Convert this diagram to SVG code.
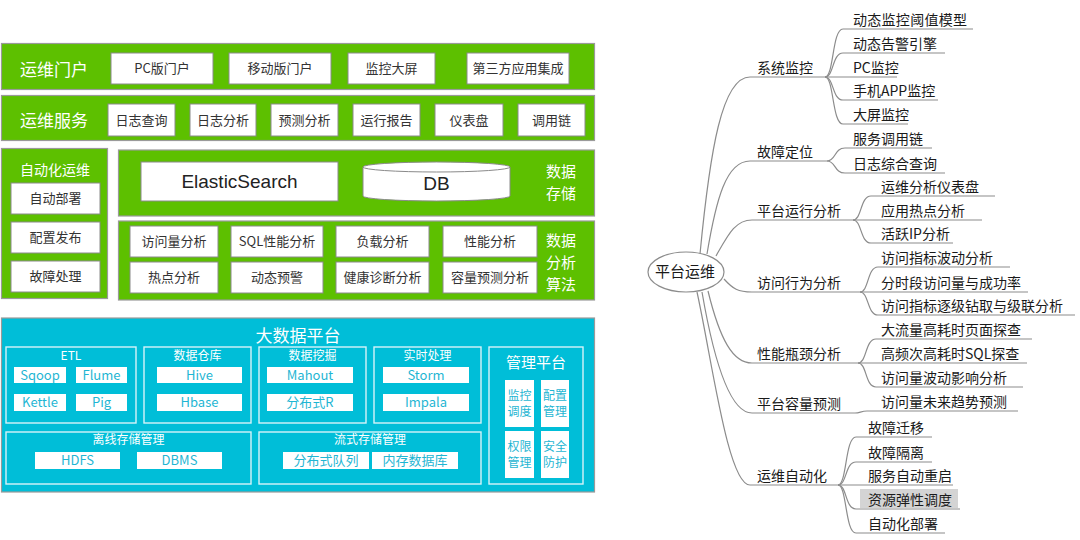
<svg xmlns="http://www.w3.org/2000/svg" width="1080" height="540" viewBox="0 0 1080 540">
<style>
text{font-family:"Noto Sans CJK SC","Liberation Sans",sans-serif;}
.gp{fill:#5DC000;stroke:#9a9a9a;stroke-width:1.2;}
.wb{fill:#fff;stroke:#8a8a8a;stroke-width:1;}
.t17{font-size:17px;fill:#fff;}
.t16{font-size:15px;fill:#fff;text-anchor:middle;}
.bt{font-size:13px;fill:#333;text-anchor:middle;}
.cp{fill:#00BED8;stroke:#9a9a9a;stroke-width:1.2;}
.cs{fill:none;stroke:#d6f3f9;stroke-width:1.4;}
.cb{fill:#fff;}
.ct{font-size:13px;fill:#1FB6D3;text-anchor:middle;}
.cw{font-size:12px;fill:#fff;text-anchor:middle;}
.ml{fill:none;stroke:#8c8c8c;stroke-width:1.2;}
.m1{font-size:14px;fill:#1a1a1a;}
</style>

<g id="portal">
<rect class="gp" x="1.5" y="43.5" width="593" height="46"/>
<text class="t17" x="20" y="76">运维门户</text>
<rect class="wb" x="111" y="53" width="102" height="31"/><text class="bt" x="162" y="73">PC版门户</text>
<rect class="wb" x="229" y="53" width="102" height="31"/><text class="bt" x="280" y="73">移动版门户</text>
<rect class="wb" x="348" y="53" width="87" height="31"/><text class="bt" x="391.5" y="73">监控大屏</text>
<rect class="wb" x="467" y="53" width="102" height="31"/><text class="bt" x="518" y="73">第三方应用集成</text>
</g>

<g id="service">
<rect class="gp" x="1.5" y="95.5" width="593" height="45"/>
<text class="t17" x="20" y="127">运维服务</text>
<rect class="wb" x="108" y="104" width="67" height="32"/><text class="bt" x="141.5" y="125">日志查询</text>
<rect class="wb" x="190" y="104" width="66" height="32"/><text class="bt" x="223" y="125">日志分析</text>
<rect class="wb" x="271" y="104" width="67" height="32"/><text class="bt" x="304.5" y="125">预测分析</text>
<rect class="wb" x="353" y="104" width="67" height="32"/><text class="bt" x="386.5" y="125">运行报告</text>
<rect class="wb" x="435" y="104" width="68" height="32"/><text class="bt" x="469" y="125">仪表盘</text>
<rect class="wb" x="518" y="104" width="67" height="32"/><text class="bt" x="551.5" y="125">调用链</text>
</g>

<g id="automation">
<rect class="gp" x="1.5" y="148.5" width="106" height="150"/>
<text x="55" y="175" style="font-size:14px;fill:#fff;text-anchor:middle">自动化运维</text>
<rect class="wb" x="11" y="183" width="89" height="31"/><text class="bt" x="55.5" y="203">自动部署</text>
<rect class="wb" x="11" y="222" width="89" height="31"/><text class="bt" x="55.5" y="242">配置发布</text>
<rect class="wb" x="11" y="261" width="89" height="31"/><text class="bt" x="55.5" y="281">故障处理</text>
</g>

<g id="storage">
<rect class="gp" x="118.5" y="150" width="476" height="66"/>
<rect class="wb" x="141" y="162" width="197" height="39"/>
<text x="239.5" y="188" style="font-family:'Liberation Sans',sans-serif;font-size:19px;fill:#222;text-anchor:middle">ElasticSearch</text>
<path d="M363,167 L363,196 A73.5,5 0 0 0 510,196 L510,167 A73.5,5 0 0 0 363,167 Z" fill="#fff" stroke="#8a8a8a"/>
<path d="M363,167 A73.5,5 0 0 0 510,167" fill="none" stroke="#8a8a8a"/>
<text x="436.5" y="190" style="font-family:'Liberation Sans',sans-serif;font-size:19px;fill:#222;text-anchor:middle">DB</text>
<text class="t16" x="561" y="177">数据<tspan x="561" dy="22">存储</tspan></text>
</g>

<g id="analysis">
<rect class="gp" x="118.5" y="221" width="476" height="79"/>
<rect class="wb" x="130" y="226" width="88" height="31"/><text class="bt" x="174" y="246">访问量分析</text>
<rect class="wb" x="231" y="226" width="92" height="31"/><text class="bt" x="277" y="246">SQL性能分析</text>
<rect class="wb" x="336" y="226" width="93" height="31"/><text class="bt" x="382.5" y="246">负载分析</text>
<rect class="wb" x="443" y="226" width="94" height="31"/><text class="bt" x="490" y="246">性能分析</text>
<rect class="wb" x="130" y="262" width="88" height="31"/><text class="bt" x="174" y="282">热点分析</text>
<rect class="wb" x="231" y="262" width="92" height="31"/><text class="bt" x="277" y="282">动态预警</text>
<rect class="wb" x="336" y="262" width="93" height="31"/><text class="bt" x="382.5" y="282">健康诊断分析</text>
<rect class="wb" x="443" y="262" width="94" height="31"/><text class="bt" x="490" y="282">容量预测分析</text>
<text class="t16" x="561" y="246">数据<tspan x="561" dy="22">分析</tspan><tspan x="561" dy="22">算法</tspan></text>
</g>

<g id="bigdata">
<rect class="cp" x="1.5" y="318" width="593" height="174"/>
<text x="298" y="342" style="font-size:17px;fill:#fff;text-anchor:middle">大数据平台</text>
</g>

<g id="etl">
<rect class="cs" x="6" y="347" width="130" height="76"/>
<text class="cw" x="71" y="360">ETL</text>
<rect class="cb" x="14" y="367" width="52" height="16"/><text class="ct" x="40" y="380">Sqoop</text>
<rect class="cb" x="76" y="367" width="51" height="16"/><text class="ct" x="101.5" y="380">Flume</text>
<rect class="cb" x="14" y="394" width="52" height="17"/><text class="ct" x="40" y="407">Kettle</text>
<rect class="cb" x="76" y="394" width="51" height="17"/><text class="ct" x="101.5" y="407">Pig</text>
</g>

<g id="warehouse">
<rect class="cs" x="144" y="347" width="107" height="76"/>
<text class="cw" x="197.5" y="360">数据仓库</text>
<rect class="cb" x="157" y="367" width="85" height="16"/><text class="ct" x="199.5" y="380">Hive</text>
<rect class="cb" x="157" y="394" width="85" height="17"/><text class="ct" x="199.5" y="407">Hbase</text>
</g>

<g id="mining">
<rect class="cs" x="259" y="347" width="107" height="76"/>
<text class="cw" x="312.5" y="360">数据挖掘</text>
<rect class="cb" x="267" y="367" width="86" height="16"/><text class="ct" x="310" y="380">Mahout</text>
<rect class="cb" x="267" y="394" width="86" height="17"/><text class="ct" x="310" y="407">分布式R</text>
</g>

<g id="realtime">
<rect class="cs" x="374" y="347" width="107" height="76"/>
<text class="cw" x="427.5" y="360">实时处理</text>
<rect class="cb" x="383" y="367" width="86" height="16"/><text class="ct" x="426" y="380">Storm</text>
<rect class="cb" x="383" y="394" width="86" height="17"/><text class="ct" x="426" y="407">Impala</text>
</g>

<g id="offline">
<rect class="cs" x="6" y="432" width="245" height="52"/>
<text class="cw" x="128.5" y="444">离线存储管理</text>
<rect class="cb" x="35" y="452" width="85" height="17"/><text class="ct" x="77.5" y="465">HDFS</text>
<rect class="cb" x="137" y="452" width="85" height="17"/><text class="ct" x="179.5" y="465">DBMS</text>
</g>

<g id="stream">
<rect class="cs" x="259" y="432" width="222" height="52"/>
<text class="cw" x="370" y="444">流式存储管理</text>
<rect class="cb" x="283" y="452" width="86" height="17"/><text class="ct" x="326" y="465">分布式队列</text>
<rect class="cb" x="372" y="452" width="86" height="17"/><text class="ct" x="415" y="465">内存数据库</text>
</g>

<g id="mgmt">
<rect class="cs" x="489" y="347" width="94" height="137"/>
<text x="536" y="368" style="font-size:15px;fill:#fff;text-anchor:middle">管理平台</text>
<rect class="cb" x="505" y="380" width="29" height="47"/>
<text class="ct" x="519.5" y="400" style="font-size:12px">监控<tspan x="519.5" dy="16">调度</tspan></text>
<rect class="cb" x="541" y="380" width="28" height="47"/>
<text class="ct" x="555" y="400" style="font-size:12px">配置<tspan x="555" dy="16">管理</tspan></text>
<rect class="cb" x="505" y="431" width="29" height="47"/>
<text class="ct" x="519.5" y="451" style="font-size:12px">权限<tspan x="519.5" dy="16">管理</tspan></text>
<rect class="cb" x="541" y="431" width="28" height="47"/>
<text class="ct" x="555" y="451" style="font-size:12px">安全<tspan x="555" dy="16">防护</tspan></text>
</g>

<g id="connectors">
<path class="ml" d="M700,254 C710,150 722,77 750,77 L825,77"/>
<path class="ml" d="M707,254 C716,200 726,161 750,161 L827,161"/>
<path class="ml" d="M716,256 C728,235 735,220 752,220 L853,220"/>
<path class="ml" d="M724,279 C733,289 738,292 752,292 L860,292"/>
<path class="ml" d="M708,291 C720,340 733,363 752,363 L858,363"/>
<path class="ml" d="M702,292 C712,350 728,413 752,413 L855,413"/>
<path class="ml" d="M697,292 C712,360 728,485 750,485 L838,485"/>

<path class="ml" d="M825,77 C834,77 832,29 843,29 L973,29"/>
<path class="ml" d="M825,77 C834,77 832,53 843,53 L945,53"/>
<path class="ml" d="M825,77 L897,77"/>
<path class="ml" d="M825,77 C834,77 832,100 843,100 L938,100"/>
<path class="ml" d="M825,77 C834,77 832,124 843,124 L908,124"/>

<path class="ml" d="M827,161 C836,161 834,148 845,148 L932,148"/>
<path class="ml" d="M827,161 C836,161 834,173 845,173 L945,173"/>

<path class="ml" d="M853,220 C862,220 860,196 871,196 L995,196"/>
<path class="ml" d="M853,220 L982,220"/>
<path class="ml" d="M853,220 C862,220 860,243 871,243 L953,243"/>

<path class="ml" d="M860,292 C869,292 867,267 878,267 L1010,267"/>
<path class="ml" d="M860,292 L1028,292"/>
<path class="ml" d="M860,292 C869,292 867,315 878,315 L1075,315"/>

<path class="ml" d="M858,363 C867,363 865,339 876,339 L1032,339"/>
<path class="ml" d="M858,363 L1027,363"/>
<path class="ml" d="M858,363 C867,363 865,387 876,387 L1023,387"/>

<path class="ml" d="M855,413 C860,413 861,411 867,411 L1018,411"/>

<path class="ml" d="M838,485 C847,485 845,437 856,437 L932,437"/>
<path class="ml" d="M838,485 C847,485 845,462 856,462 L932,462"/>
<path class="ml" d="M838,485 L953,485"/>
<path class="ml" d="M838,485 C847,485 845,509 856,509 L960,509"/>
<path class="ml" d="M838,485 C847,485 845,533 856,533 L945,533"/>
</g>

<g id="root">
<ellipse cx="686" cy="272" rx="38" ry="20" fill="#fff" stroke="#8c8c8c" stroke-width="1.2"/>
<text x="685" y="277" style="font-size:15px;fill:#1a1a1a;text-anchor:middle">平台运维</text>
</g>

<g id="b-monitor"><text class="m1" x="757" y="73">系统监控</text></g>
<g id="b-fault"><text class="m1" x="757" y="157">故障定位</text></g>
<g id="b-run"><text class="m1" x="757" y="216">平台运行分析</text></g>
<g id="b-access"><text class="m1" x="757" y="288">访问行为分析</text></g>
<g id="b-perf"><text class="m1" x="757" y="359">性能瓶颈分析</text></g>
<g id="b-capacity"><text class="m1" x="757" y="409">平台容量预测</text></g>
<g id="b-auto"><text class="m1" x="757" y="481">运维自动化</text></g>

<g id="l-monitor">
<text class="m1" x="853" y="25" textLength="114">动态监控阈值模型</text>
<text class="m1" x="853" y="49">动态告警引擎</text>
<text class="m1" x="853" y="73">PC监控</text>
<text class="m1" x="853" y="96">手机APP监控</text>
<text class="m1" x="853" y="120">大屏监控</text>
</g>
<g id="l-fault">
<text class="m1" x="853" y="144">服务调用链</text>
<text class="m1" x="853" y="169">日志综合查询</text>
</g>
<g id="l-run">
<text class="m1" x="881" y="192">运维分析仪表盘</text>
<text class="m1" x="881" y="216">应用热点分析</text>
<text class="m1" x="881" y="239">活跃IP分析</text>
</g>
<g id="l-access">
<text class="m1" x="881" y="263">访问指标波动分析</text>
<text class="m1" x="881" y="288">分时段访问量与成功率</text>
<text class="m1" x="881" y="311">访问指标逐级钻取与级联分析</text>
</g>
<g id="l-perf">
<text class="m1" x="881" y="335">大流量高耗时页面探查</text>
<text class="m1" x="881" y="359">高频次高耗时SQL探查</text>
<text class="m1" x="881" y="383">访问量波动影响分析</text>
</g>
<g id="l-capacity">
<text class="m1" x="881" y="407">访问量未来趋势预测</text>
</g>
<g id="l-auto">
<text class="m1" x="868" y="433">故障迁移</text>
<text class="m1" x="868" y="458">故障隔离</text>
<text class="m1" x="868" y="481">服务自动重启</text>
<rect x="860" y="489" width="98" height="19" fill="#d4d4d4"/>
<text class="m1" x="868" y="505">资源弹性调度</text>
<text class="m1" x="868" y="529">自动化部署</text>
</g>
</svg>
